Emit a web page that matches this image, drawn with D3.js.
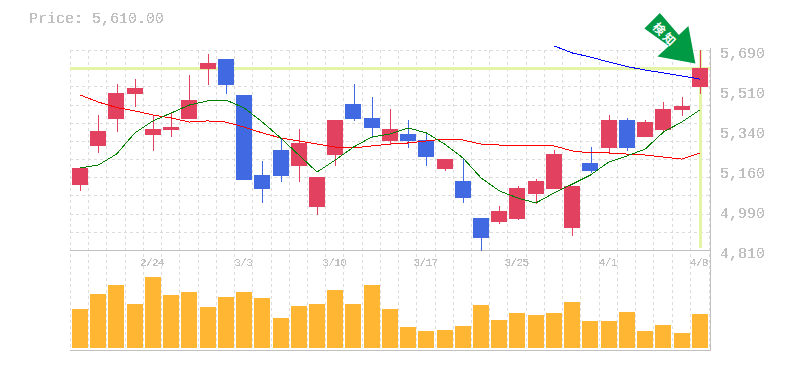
<!DOCTYPE html>
<html><head><meta charset="utf-8">
<script src="https://cdn.jsdelivr.net/npm/d3@7/dist/d3.min.js"></script>
<style>html,body{margin:0;padding:0;background:#fff}svg{display:block}</style>
</head><body><svg id="c" width="785" height="370"></svg>
<script>
const priceLabel = "Price: 5,610.00";
const badgeText = "検知";
const yLabels = ["5,690","5,510","5,340","5,160","4,990","4,810"];
const xLabels = [[4,"2/24"],[9,"3/3"],[14,"3/10"],[19,"3/17"],[24,"3/25"],[29,"4/1"],[34,"4/8"]];
const highs = [5171,5404,5540,5562,5404,5413,5580,5672,5650,5492,5202,5298,5342,5131,5382,5540,5483,5430,5382,5320,5210,5210,4951,5004,5092,5122,5250,5092,5263,5404,5391,5382,5461,5483,5690];
const lows  = [5070,5237,5329,5439,5246,5307,5386,5536,5496,5118,5017,5109,5109,4964,5180,5378,5303,5276,5259,5180,5158,5017,4806,4924,4942,5012,5078,4872,5149,5232,5246,5307,5329,5400,5496];
const bodyTop = [5171,5334,5501,5523,5342,5351,5470,5633,5650,5492,5140,5250,5281,5131,5382,5452,5391,5342,5320,5294,5210,5114,4951,4982,5083,5114,5232,5092,5193,5382,5382,5373,5430,5444,5610];
const bodyBot = [5096,5268,5386,5496,5316,5338,5386,5606,5536,5118,5078,5136,5180,4999,5228,5386,5347,5290,5290,5219,5166,5039,4863,4933,4946,5056,5078,4907,5158,5259,5259,5307,5338,5426,5527];
const falling = [8,9,10,11,15,16,18,19,21,22,28,30];
const maShort = [5171,5184,5232,5325,5378,5413,5448,5466,5470,5435,5373,5303,5228,5153,5206,5263,5307,5320,5347,5325,5276,5215,5127,5070,5039,5017,5061,5100,5140,5197,5224,5254,5329,5373,5426];
const maMid = [5492,5461,5437,5422,5404,5391,5373,5378,5373,5351,5325,5303,5290,5276,5263,5259,5268,5276,5281,5290,5298,5294,5276,5272,5272,5268,5268,5246,5237,5237,5232,5228,5219,5210,5237];
const maLong = [null,null,null,null,null,null,null,null,null,null,null,null,null,null,null,null,null,null,null,null,null,null,null,null,null,null,5708,5677,5659,5637,5617,5602,5589,5576,5562];
const volumes = [387,537,627,437,707,527,557,407,507,557,497,297,417,437,577,437,627,387,207,167,177,217,427,277,347,327,347,457,267,267,357,167,227,147,337];
const lastPrice = 5610;

const FONT = "'Liberation Mono','DejaVu Sans Mono',monospace";
const GRAY = "#c0c0c0", GRID = "#dcdcdc", LIME = "#e4f5a8";
const svg = d3.select("#c");

// hard-edged (unsmoothed) text look
const flt = svg.append("defs").append("filter").attr("id","hard")
  .attr("x","-5%").attr("y","-20%").attr("width","110%").attr("height","140%")
  .attr("color-interpolation-filters","sRGB");
flt.append("feComponentTransfer").append("feFuncA").attr("type","discrete").attr("tableValues","0 0 1 1 1");

const idx = d3.range(highs.length);
const x = d3.scaleBand().domain(idx).range([71,709]);
const cx = i => x(i) + x.step()/2;
const y = d3.scaleLinear().domain([4810,5690]).range([250,50]);
const yLab = d3.scalePoint().domain(yLabels).range([50,250]);
const yVol = d3.scaleLinear().domain([0,1000]).range([348,248]);

// grid
const hg = svg.append("g").attr("stroke",GRID).attr("stroke-dasharray","3,3").attr("shape-rendering","crispEdges");
d3.range(0,12).map(k=>4810+80*k).forEach(v=>{
  const py = Math.round(y(v))+0.5;
  hg.append("line").attr("x1",70).attr("x2",710).attr("y1",py).attr("y2",py);
});
idx.forEach(i=>{
  const px = Math.round(x(i))-0.5;
  hg.append("line").attr("x1",px).attr("x2",px).attr("y1",50).attr("y2",350);
});
hg.append("line").attr("x1",709.5).attr("x2",709.5).attr("y1",50).attr("y2",350);

// crosshair
svg.append("rect").attr("x",70).attr("width",640).attr("y",Math.round(y(lastPrice))-1).attr("height",3).attr("fill",LIME);
svg.append("rect").attr("x",Math.round(cx(34))-1).attr("width",3).attr("y",50).attr("height",198).attr("fill",LIME);

// frame
const fr = svg.append("g").attr("stroke",GRAY).attr("shape-rendering","crispEdges");
fr.append("line").attr("x1",70).attr("x2",711).attr("y1",250.5).attr("y2",250.5);
fr.append("line").attr("x1",70).attr("x2",711).attr("y1",350.5).attr("y2",350.5);
fr.append("line").attr("x1",710.5).attr("x2",710.5).attr("y1",48).attr("y2",351);

// volume
svg.append("g").selectAll("rect").data(volumes).join("rect")
  .attr("x",(d,i)=>Math.round(x(i))+1).attr("width",16)
  .attr("y",d=>Math.round(yVol(d))).attr("height",d=>348-Math.round(yVol(d)))
  .attr("fill","#ffb733");

// candles
const col = i => falling.includes(i) ? "#4169e1" : "#e2425f";
const cg = svg.append("g").attr("shape-rendering","crispEdges");
cg.selectAll("line").data(idx).join("line")
  .attr("x1",i=>Math.round(cx(i))+0.5).attr("x2",i=>Math.round(cx(i))+0.5)
  .attr("y1",i=>y(highs[i])).attr("y2",i=>y(lows[i]))
  .attr("stroke",col);
cg.selectAll("rect").data(idx).join("rect")
  .attr("x",i=>Math.round(x(i))+1).attr("width",16)
  .attr("y",i=>Math.round(y(bodyTop[i])))
  .attr("height",i=>Math.round(y(bodyBot[i]))-Math.round(y(bodyTop[i])))
  .attr("fill",col);

// moving averages
const ln = d3.line().defined(d=>d!=null).x((d,i)=>cx(i)).y(d=>y(d));
[[maMid,"#ff0000"],[maShort,"#008000"],[maLong,"#0000ff"]].forEach(([s,c])=>{
  svg.append("path").attr("d",ln(s)).attr("fill","none").attr("stroke",c).attr("stroke-width",1).attr("shape-rendering","crispEdges");
});

// badge arrow anchored at the last candle
const ax = cx(34), ay = y(highs[34]);
const arrow = svg.append("g").attr("transform",`translate(${ax},${ay})`);
arrow.append("path").attr("fill","#009944")
  .attr("d",d3.line()([[-4.5,13.5],[-42.5,6.5],[-31,-4],[-55.5,-21.5],[-40,-37],[-21,-15],[-11.5,-24]]));
arrow.append("text").attr("transform","translate(-34,-16) rotate(45)")
  .attr("text-anchor","middle").attr("dominant-baseline","central")
  .attr("font-family","'Noto Sans CJK JP'").attr("font-weight","700").attr("font-size",12).attr("letter-spacing",2.5).attr("fill","#fff")
  .text(badgeText);

// text
const tg = svg.append("g").attr("filter","url(#hard)");
tg.append("text").attr("x",29).attr("y",23).attr("font-family",FONT).attr("font-size",15).attr("fill",GRAY).text(priceLabel);
tg.append("g").selectAll("text").data(yLabels).join("text")
  .attr("x",720).attr("y",d=>yLab(d)+8).attr("font-family",FONT).attr("font-size",15).attr("fill",GRAY).text(d=>d);
tg.append("g").selectAll("text").data(xLabels).join("text")
  .attr("x",d=>cx(d[0])-1).attr("y",266).attr("text-anchor","middle").attr("font-family",FONT).attr("font-size",11).attr("letter-spacing",-0.6).attr("fill",GRAY).text(d=>d[1]);
</script></body></html>
